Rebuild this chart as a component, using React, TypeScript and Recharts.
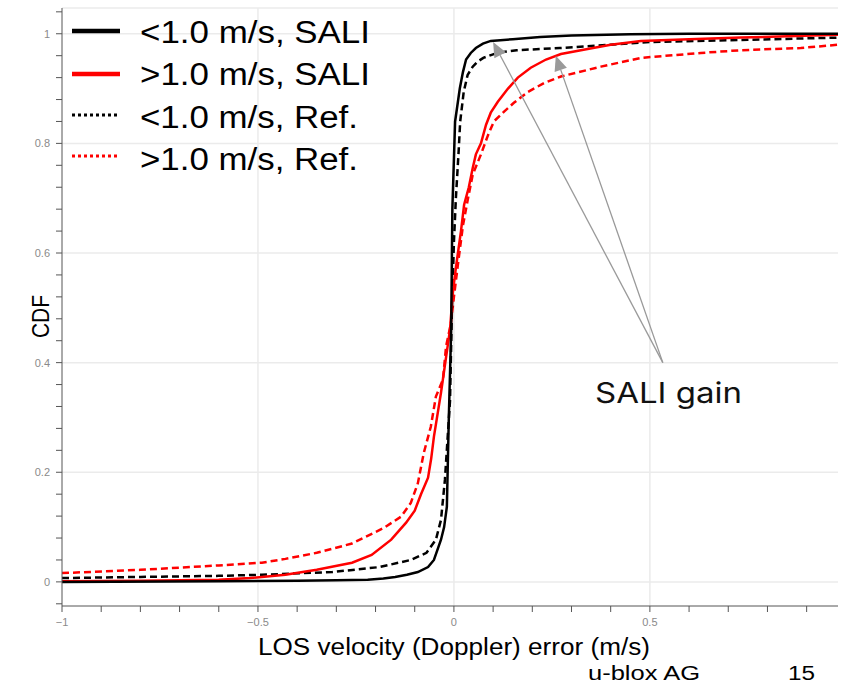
import React from "react";
import { LineChart, Line, XAxis, YAxis, CartesianGrid, ReferenceLine } from "recharts";

// <1.0 m/s, SALI
const blackSolidX = [-1, -0.6, -0.4, -0.3, -0.22, -0.18, -0.15, -0.12, -0.092, -0.066, -0.051, -0.033, -0.025, -0.018, -0.013, -0.007, -0.004, 0.003, 0.015, 0.023, 0.031, 0.043, 0.056, 0.074, 0.094, 0.15, 0.22, 0.3, 0.45, 0.6, 0.98];
const blackSolidY = [0, 0.001, 0.002, 0.003, 0.004, 0.006, 0.009, 0.013, 0.018, 0.027, 0.04, 0.077, 0.1, 0.137, 0.3, 0.46, 0.68, 0.84, 0.9, 0.93, 0.953, 0.965, 0.974, 0.982, 0.987, 0.99, 0.994, 0.997, 0.999, 1.0, 1.0];

// >1.0 m/s, SALI
const redSolidX = [-1, -0.8, -0.6, -0.52, -0.43, -0.35, -0.26, -0.21, -0.16, -0.122, -0.1, -0.084, -0.066, -0.058, -0.051, -0.033, -0.02, -0.01, -0.003, 0.005, 0.018, 0.026, 0.038, 0.048, 0.056, 0.069, 0.082, 0.094, 0.112, 0.138, 0.163, 0.196, 0.235, 0.273, 0.324, 0.4, 0.477, 0.6, 0.732, 0.98];
const redSolidY = [0.001, 0.002, 0.004, 0.007, 0.013, 0.022, 0.035, 0.049, 0.077, 0.108, 0.13, 0.16, 0.19, 0.225, 0.265, 0.345, 0.41, 0.46, 0.527, 0.573, 0.64, 0.688, 0.72, 0.755, 0.78, 0.8, 0.834, 0.856, 0.876, 0.9, 0.92, 0.938, 0.953, 0.963, 0.97, 0.98, 0.987, 0.99, 0.993, 0.998];

// <1.0 m/s, Ref.
const blackRefX = [-1, -0.8, -0.6, -0.49, -0.31, -0.19, -0.11, -0.07, -0.046, -0.033, -0.023, -0.01, -0.005, 0, 0.005, 0.012, 0.016, 0.025, 0.035, 0.048, 0.06, 0.075, 0.11, 0.16, 0.27, 0.4, 0.5, 0.75, 0.98];
const blackRefY = [0.007, 0.009, 0.011, 0.013, 0.018, 0.027, 0.04, 0.053, 0.077, 0.113, 0.186, 0.33, 0.5, 0.62, 0.7, 0.785, 0.84, 0.894, 0.925, 0.94, 0.949, 0.956, 0.965, 0.97, 0.974, 0.98, 0.985, 0.989, 0.993];

// >1.0 m/s, Ref.
const redRefX = [-1, -0.8, -0.6, -0.49, -0.43, -0.35, -0.26, -0.18, -0.135, -0.11, -0.092, -0.077, -0.059, -0.046, -0.028, -0.02, -0.008, 0, 0.01, 0.023, 0.036, 0.048, 0.069, 0.087, 0.102, 0.128, 0.153, 0.189, 0.23, 0.273, 0.375, 0.477, 0.63, 0.732, 0.885, 0.98];
const redRefY = [0.016, 0.022, 0.03, 0.035, 0.042, 0.053, 0.07, 0.098, 0.119, 0.144, 0.18, 0.235, 0.283, 0.338, 0.369, 0.43, 0.47, 0.52, 0.578, 0.65, 0.7, 0.743, 0.78, 0.815, 0.84, 0.858, 0.874, 0.894, 0.91, 0.922, 0.94, 0.956, 0.965, 0.97, 0.974, 0.98];

const xTicks = [-1, -0.9, -0.8, -0.7, -0.6, -0.5, -0.4, -0.3, -0.2, -0.1, 0, 0.1, 0.2, 0.3, 0.4, 0.5, 0.6, 0.7, 0.8, 0.9];
const xTickLabels: Record<string, string> = { "-1": "\u22121", "-0.5": "\u22120.5", "0": "0", "0.5": "0.5" };
const yTicks = [-0.04, 0, 0.04, 0.08, 0.12, 0.16, 0.2, 0.24, 0.28, 0.32, 0.36, 0.4, 0.44, 0.48, 0.52, 0.56, 0.6, 0.64, 0.68, 0.72, 0.76, 0.8, 0.84, 0.88, 0.92, 0.96, 1, 1.04];
const yTickLabels: Record<string, string> = { "0": "0", "0.2": "0.2", "0.4": "0.4", "0.6": "0.6", "0.8": "0.8", "1": "1" };
const xGrid = [-0.5, 0, 0.5];
const yGrid = [0, 0.2, 0.4, 0.6, 0.8, 1];

const legendItems = ["<1.0 m/s, SALI", ">1.0 m/s, SALI", "<1.0 m/s, Ref.", ">1.0 m/s, Ref."];
const annotationText = "SALI gain";
const arrowOrigin = { x: 0.533, y: 0.4 };
const arrowTips = [{ x: 0.1, y: 0.985 }, { x: 0.26, y: 0.96 }];

const toData = (xs: number[], ys: number[]) => xs.map((x, i) => ({ x, y: ys[i] }));
const blackSolid = toData(blackSolidX, blackSolidY);
const redSolid = toData(redSolidX, redSolidY);
const blackRef = toData(blackRefX, blackRefY);
const redRef = toData(redRefX, redRefY);

const tickFont = "'Liberation Sans Narrow', 'Liberation Sans', Arial, sans-serif";

const XTick = (props: any) => {
  const { x, y, payload } = props;
  const key = String(Math.round(payload.value * 10) / 10);
  const label = xTickLabels[key];
  if (!label) return null;
  return (
    <text x={x} y={y + 12} textAnchor="middle" fontSize={11} fill="#8a8a8a" fontFamily={tickFont}>
      {label}
    </text>
  );
};

const YTick = (props: any) => {
  const { x, y, payload } = props;
  const key = String(Math.round(payload.value * 100) / 100);
  const label = yTickLabels[key];
  if (!label) return null;
  return (
    <text x={x - 4} y={y + 4} textAnchor="end" fontSize={11} fill="#8a8a8a" fontFamily={tickFont}>
      {label}
    </text>
  );
};

const ArrowShape = (props: any) => {
  const { x1, y1, x2, y2 } = props;
  const dx = x2 - x1;
  const dy = y2 - y1;
  const len = Math.sqrt(dx * dx + dy * dy);
  const ux = dx / len;
  const uy = dy / len;
  const hl = 15;
  const hw = 6.5;
  const bx = x2 - ux * hl;
  const by = y2 - uy * hl;
  const px = -uy;
  const py = ux;
  return (
    <g>
      <line x1={x1} y1={y1} x2={bx} y2={by} stroke="#999" strokeWidth={1.3} />
      <polygon
        points={`${x2},${y2} ${bx + px * hw},${by + py * hw} ${bx - px * hw},${by - py * hw}`}
        fill="#9a9a9a"
      />
    </g>
  );
};

export default function App() {
  const legendRows = [
    { y: 31, color: "#000", dash: undefined, w: 4.5, ty: 43, tl: 230 },
    { y: 74, color: "#ff0000", dash: undefined, w: 4.5, ty: 85, tl: 230 },
    { y: 115, color: "#000", dash: "3 3", w: 3, ty: 128, tl: 218 },
    { y: 156, color: "#ff0000", dash: "3 3", w: 3, ty: 170, tl: 218 },
  ];
  return (
    <div style={{ position: "absolute", left: 0, top: 0, width: 849, height: 683, background: "#fff" }}>
      <LineChart width={849} height={683} margin={{ top: 8, right: 11, bottom: 47, left: 0 }}>
        <CartesianGrid
          horizontalValues={yGrid}
          verticalValues={xGrid}
          stroke="#ebebeb"
          strokeWidth={1.5}
        />
        <XAxis
          type="number"
          dataKey="x"
          domain={[-1, 0.98]}
          allowDataOverflow
          ticks={xTicks}
          interval={0}
          height={30}
          tickSize={6}
          tick={<XTick />}
          stroke="#555"
          tickLine={{ stroke: "#555" }}
        />
        <YAxis
          type="number"
          dataKey="y"
          domain={[-0.044, 1.047]}
          allowDataOverflow
          ticks={yTicks}
          interval={0}
          width={62}
          tickSize={6}
          tick={<YTick />}
          stroke="#555"
          tickLine={{ stroke: "#555" }}
        />
        <ReferenceLine y={1.047} stroke="#ebebeb" strokeWidth={1.5} />
        <Line data={redRef} dataKey="y" type="linear" stroke="#ff0000" strokeWidth={2.5} strokeDasharray="7 4" dot={false} isAnimationActive={false} />
        <Line data={blackRef} dataKey="y" type="linear" stroke="#000" strokeWidth={2.5} strokeDasharray="7 4" dot={false} isAnimationActive={false} />
        <Line data={redSolid} dataKey="y" type="linear" stroke="#ff0000" strokeWidth={2.5} dot={false} isAnimationActive={false} />
        <Line data={blackSolid} dataKey="y" type="linear" stroke="#000" strokeWidth={2.5} dot={false} isAnimationActive={false} />
        {arrowTips.map((t, i) => (
          <ReferenceLine
            key={i}
            segment={[arrowOrigin, t]}
            ifOverflow="visible"
            shape={<ArrowShape />}
          />
        ))}
      </LineChart>
      <svg
        width={849}
        height={683}
        style={{ position: "absolute", left: 0, top: 0, pointerEvents: "none" }}
      >
        {legendRows.map((r, i) => (
          <g key={i}>
            <line x1={72} x2={120} y1={r.y} y2={r.y} stroke={r.color} strokeWidth={r.w} strokeDasharray={r.dash} />
            <text
              x={140}
              y={r.ty}
              fontSize={31}
              fontFamily="'Liberation Sans', Arial, sans-serif"
              fill="#000"
              textLength={r.tl}
              lengthAdjust="spacingAndGlyphs"
            >
              {legendItems[i]}
            </text>
          </g>
        ))}
        <text
          x={595}
          y={403}
          fontSize={28}
          fontFamily="Inter, 'Noto Sans', sans-serif"
          fill="#111"
          textLength={147}
          lengthAdjust="spacingAndGlyphs"
        >
          {annotationText}
        </text>
        <text
          x={258}
          y={655}
          fontSize={23}
          fontFamily="'Liberation Sans Narrow', 'Liberation Sans', Arial, sans-serif"
          fill="#000"
          textLength={392}
          lengthAdjust="spacingAndGlyphs"
        >
          LOS velocity (Doppler) error (m/s)
        </text>
        <text
          transform="translate(49,338) rotate(-90)"
          x={0}
          y={0}
          fontSize={24}
          fontFamily="'Liberation Sans', Arial, sans-serif"
          fill="#000"
          textLength={43}
          lengthAdjust="spacingAndGlyphs"
        >
          CDF
        </text>
        <text
          x={588}
          y={680}
          fontSize={20}
          fontFamily="'Liberation Sans Narrow', 'Liberation Sans', Arial, sans-serif"
          fill="#000"
          textLength={112}
          lengthAdjust="spacingAndGlyphs"
        >
          u-blox AG
        </text>
        <text
          x={788}
          y={680}
          fontSize={20}
          fontFamily="'Liberation Sans Narrow', 'Liberation Sans', Arial, sans-serif"
          fill="#000"
          textLength={27}
          lengthAdjust="spacingAndGlyphs"
        >
          15
        </text>
      </svg>
    </div>
  );
}
